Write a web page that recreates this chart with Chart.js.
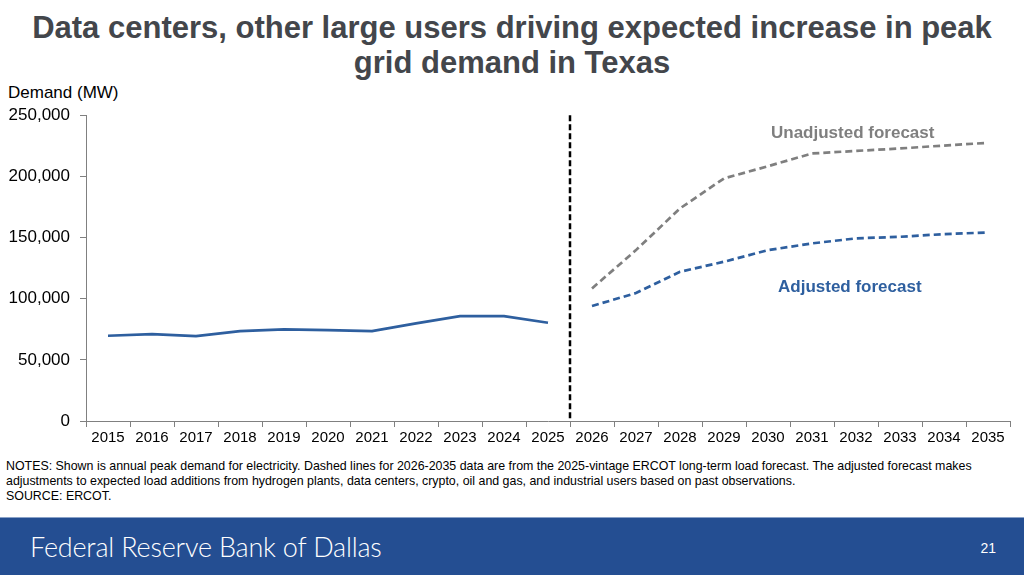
<!DOCTYPE html>
<html>
<head>
<meta charset="utf-8">
<script src="https://cdn.jsdelivr.net/npm/chart.js@4"></script>
<style>
  body { margin: 0; width: 1024px; height: 575px; overflow: hidden; background: #fff; font-family: "Liberation Sans", Arial, sans-serif; position: relative; }
  #title { position: absolute; top: 10px; left: 0; width: 1024px; text-align: center; font-weight: bold; font-size: 31px; line-height: 35px; color: #43464b; }
  #ytitle { position: absolute; left: 8px; top: 83px; font-size: 17px; color: #000; }
  #wrap { position: absolute; left: 0; top: 95px; width: 1024px; height: 355px; }
  .lbl { position: absolute; font-weight: bold; font-size: 17px; white-space: nowrap; }
  #notes { position: absolute; left: 6px; top: 459px; font-size: 12.4px; line-height: 15px; color: #000; width: 1015px; }
  #footer { position: absolute; left: 0; top: 517px; width: 1024px; height: 58px; background: #244e92; border-top: 1px solid #8aa2c8; }
  #bank { position: absolute; left: 30px; top: 12px; color: #fff; font-family: Lato, "Open Sans", sans-serif; font-weight: 300; font-size: 27px; letter-spacing: -0.2px; }
  #page { position: absolute; right: 28px; top: 22px; color: #fff; font-size: 14px; }
</style>
</head>
<body>
<div id="title">Data centers, other large users driving expected increase in peak<br>grid demand in Texas</div>
<div id="ytitle">Demand (MW)</div>
<div id="wrap"><canvas id="chart"></canvas></div>
<div class="lbl" style="left:771px;top:123px;color:#7f7f7f;">Unadjusted forecast</div>
<div class="lbl" style="left:778px;top:277px;color:#2e5f9f;">Adjusted forecast</div>
<div id="notes">NOTES: Shown is annual peak demand for electricity. Dashed lines for 2026-2035 data are from the 2025-vintage ERCOT long-term load forecast. The adjusted forecast makes adjustments to expected load additions from hydrogen plants, data centers, crypto, oil and gas, and industrial users based on past observations.<br>SOURCE: ERCOT.</div>
<div id="footer"><div id="bank">Federal Reserve Bank of Dallas</div><div id="page">21</div></div>
<script>
const years = ["2015","2016","2017","2018","2019","2020","2021","2022","2023","2024","2025",
  "2026","2027","2028","2029","2030","2031","2032","2033","2034","2035"];
const actual = [69700, 71100, 69400, 73500, 74900, 74300, 73500, 79800, 85800, 85800, 80300,
  null, null, null, null, null, null, null, null, null, null];
const unadjusted = [null, null, null, null, null, null, null, null, null, null, null,
  108400, 139700, 173800, 198300, 208300, 218700, 220800, 222800, 225200, 227400];
const adjusted = [null, null, null, null, null, null, null, null, null, null, null,
  94000, 104600, 122000, 130200, 139700, 145200, 149300, 150600, 152800, 154100];
const yTicks = [0, 50000, 100000, 150000, 200000, 250000];

// dashed divider between 2025 and 2026
const divider = {
  id: "divider",
  afterDatasetsDraw(chart) {
    const x = chart.scales.x;
    const y = chart.scales.y;
    const px = (x.getPixelForValue(10) + x.getPixelForValue(11)) / 2;
    const c = chart.ctx;
    c.save();
    c.strokeStyle = "#000";
    c.lineWidth = 2.5;
    c.setLineDash([6, 3]);
    c.beginPath();
    c.moveTo(px, y.getPixelForValue(250000));
    c.lineTo(px, y.getPixelForValue(0));
    c.stroke();
    c.restore();
  }
};

const ctx = document.getElementById("chart").getContext("2d");
const myChart = new Chart(ctx, {
  type: "line",
  data: {
    labels: years,
    datasets: [
      { label: "Actual", data: actual, borderColor: "#2e5f9f", borderWidth: 2.7, pointRadius: 0, tension: 0 },
      { label: "Unadjusted forecast", data: unadjusted, borderColor: "#7f7f7f", borderWidth: 2.7, borderDash: [7, 4], pointRadius: 0, tension: 0 },
      { label: "Adjusted forecast", data: adjusted, borderColor: "#2e5f9f", borderWidth: 2.7, borderDash: [7, 4], pointRadius: 0, tension: 0 }
    ]
  },
  options: {
    responsive: true,
    maintainAspectRatio: false,
    animation: false,
    layout: { padding: { top: 6, right: 14, left: 0, bottom: 0 } },
    plugins: { legend: { display: false }, tooltip: { enabled: false } },
    scales: {
      x: {
        offset: true,
        grid: { offset: true, drawOnChartArea: false, tickLength: 6, color: "#808080" },
        border: { color: "#808080", width: 1 },
        ticks: { color: "#000", font: { family: "Liberation Sans", size: 15 }, padding: 2, maxRotation: 0, autoSkip: false },
        afterFit(scale) { scale.height = 29; }
      },
      y: {
        min: 0,
        max: 250000,
        afterBuildTicks(scale) { scale.ticks = yTicks.map(v => ({ value: v })); },
        grid: { drawOnChartArea: false, tickLength: 6, color: "#808080" },
        border: { color: "#808080", width: 1 },
        ticks: {
          color: "#000",
          font: { family: "Liberation Sans", size: 17 },
          padding: 10,
          callback: v => v.toLocaleString("en-US")
        },
        afterFit(scale) { scale.width = 86; }
      }
    }
  },
  plugins: [divider]
});
</script>
</body>
</html>
